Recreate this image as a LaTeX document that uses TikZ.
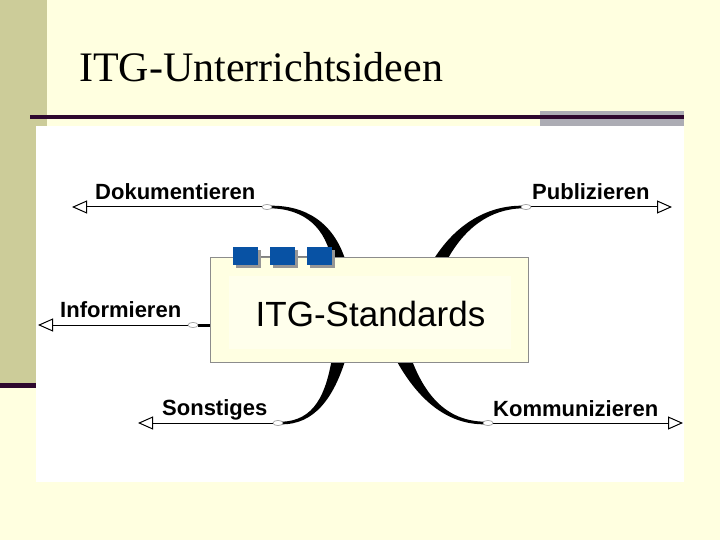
\documentclass[tikz,border=0pt]{standalone}
\usepackage{fontspec}
\setmainfont{Liberation Serif}
\newfontfamily\arialfont{Liberation Sans}
\usetikzlibrary{arrows.meta,shapes.geometric}
\definecolor{bgY}{RGB}{255,255,224}
\definecolor{barK}{RGB}{204,204,153}
\definecolor{darkP}{RGB}{46,8,46}
\definecolor{grayB}{RGB}{172,172,180}
\definecolor{boxF}{RGB}{255,255,226}
\definecolor{boxIn}{RGB}{255,255,236}
\definecolor{sqB}{RGB}{8,82,164}
\definecolor{sqShadow}{RGB}{150,150,150}
\tikzset{
  lbl/.style={font=\arialfont\bfseries\fontsize{22}{25}\selectfont, anchor=base west, inner sep=0pt},
  knob/.style={ellipse, draw=gray!80, fill=white, line width=0.5pt, minimum width=10pt, minimum height=5pt, inner sep=0pt},
  branch/.style={draw=black, line width=1pt, -{Triangle[open, length=15pt, width=13pt]}},
  taper/.style={fill=black},
  sqnode/.style={draw=none, fill=sqB, minimum width=25pt, minimum height=18pt, inner sep=0pt},
}
\begin{document}
\begin{tikzpicture}[x=1pt,y=-1pt]
\useasboundingbox (0,0) rectangle (720,540);
% background
\fill[bgY] (0,0) rectangle (720,540);
\fill[barK] (0,0) rectangle (47,385);
\fill[darkP] (0,383) rectangle (47,387.5);
\fill[grayB] (540,111) rectangle (684,126);
\fill[darkP] (30,115.5) rectangle (684,119.5);
\fill[white] (36,126) rectangle (684,482);
% title
\node[anchor=base west, inner sep=0pt, font=\fontsize{42}{48}\selectfont] (title) at (79,82) {ITG-Unterrichtsideen};

% knobs and arrow tips
\node[knob] (oD) at (267,207) {};
\node[knob] (oP) at (526,207) {};
\node[knob] (oI) at (193,325) {};
\node[knob] (oS) at (278,423) {};
\node[knob] (oK) at (488,423) {};
\coordinate (tD) at (72,207);
\coordinate (tP) at (672,207);
\coordinate (tI) at (38,325);
\coordinate (tS) at (138,423);
\coordinate (tK) at (683,423);

% tapered curves
\fill[taper] (270,205.7) .. controls (305,205.2) and (334,222) .. (346,262)
  -- (332,262) .. controls (326,228) and (305,208.8) .. (270,208.3) -- cycle;
\fill[taper] (523,205.7) .. controls (490,205.2) and (456,222) .. (432,262)
  -- (446,262) .. controls (464,228) and (490,208.8) .. (523,208.3) -- cycle;
\fill[taper] (281,421.7) .. controls (315,421.2) and (326,393) .. (332,358)
  -- (346,358) .. controls (334,397) and (315,424.8) .. (281,424.3) -- cycle;
\fill[taper] (485,421.7) .. controls (445,421.2) and (424,393) .. (411,358)
  -- (395,358) .. controls (416,397) and (445,424.8) .. (485,424.3) -- cycle;
\draw[line width=3pt] (211,325) -- (oI.east);

% branches
\draw[branch] (oD.west) -- (tD);
\draw[branch] (oP.east) -- (tP);
\draw[branch] (oI.west) -- (tI);
\draw[branch] (oS.west) -- (tS);
\draw[branch] (oK.east) -- (tK);
% redraw knobs on top
\node[knob] at (oD) {};
\node[knob] at (oP) {};
\node[knob] at (oI) {};
\node[knob] at (oS) {};
\node[knob] at (oK) {};

% labels
\node[lbl] (lD) at (95,200) {Dokumentieren};
\node[lbl] (lP) at (532,200) {Publizieren};
\node[lbl] (lI) at (60,317) {Informieren};
\node[lbl] (lS) at (162,415.5) {Sonstiges};
\node[lbl] (lK) at (493,416) {Kommunizieren};

% central box
\node[draw=gray!90, fill=boxF, line width=0.8pt, minimum width=318pt, minimum height=105pt, inner sep=0pt] (box) at (369,309.5) {};
\fill[boxIn] (229,276) rectangle (511,349);
\node[anchor=base, inner sep=0pt, font=\arialfont\fontsize{35}{40}\selectfont] (std) at (370.5,326) {ITG-Standards};

% blue squares
\draw[gray, line width=0.6pt] (240,256) -- (325,256);
\fill[sqShadow] (235.5,249.5) rectangle (260.5,267.5);
\fill[sqShadow] (272.5,249.5) rectangle (297.5,267.5);
\fill[sqShadow] (309.5,249.5) rectangle (334.5,267.5);
\node[sqnode] (sq1) at (245.5,256) {};
\node[sqnode] (sq2) at (282.5,256) {};
\node[sqnode] (sq3) at (319.5,256) {};
\end{tikzpicture}
\end{document}
